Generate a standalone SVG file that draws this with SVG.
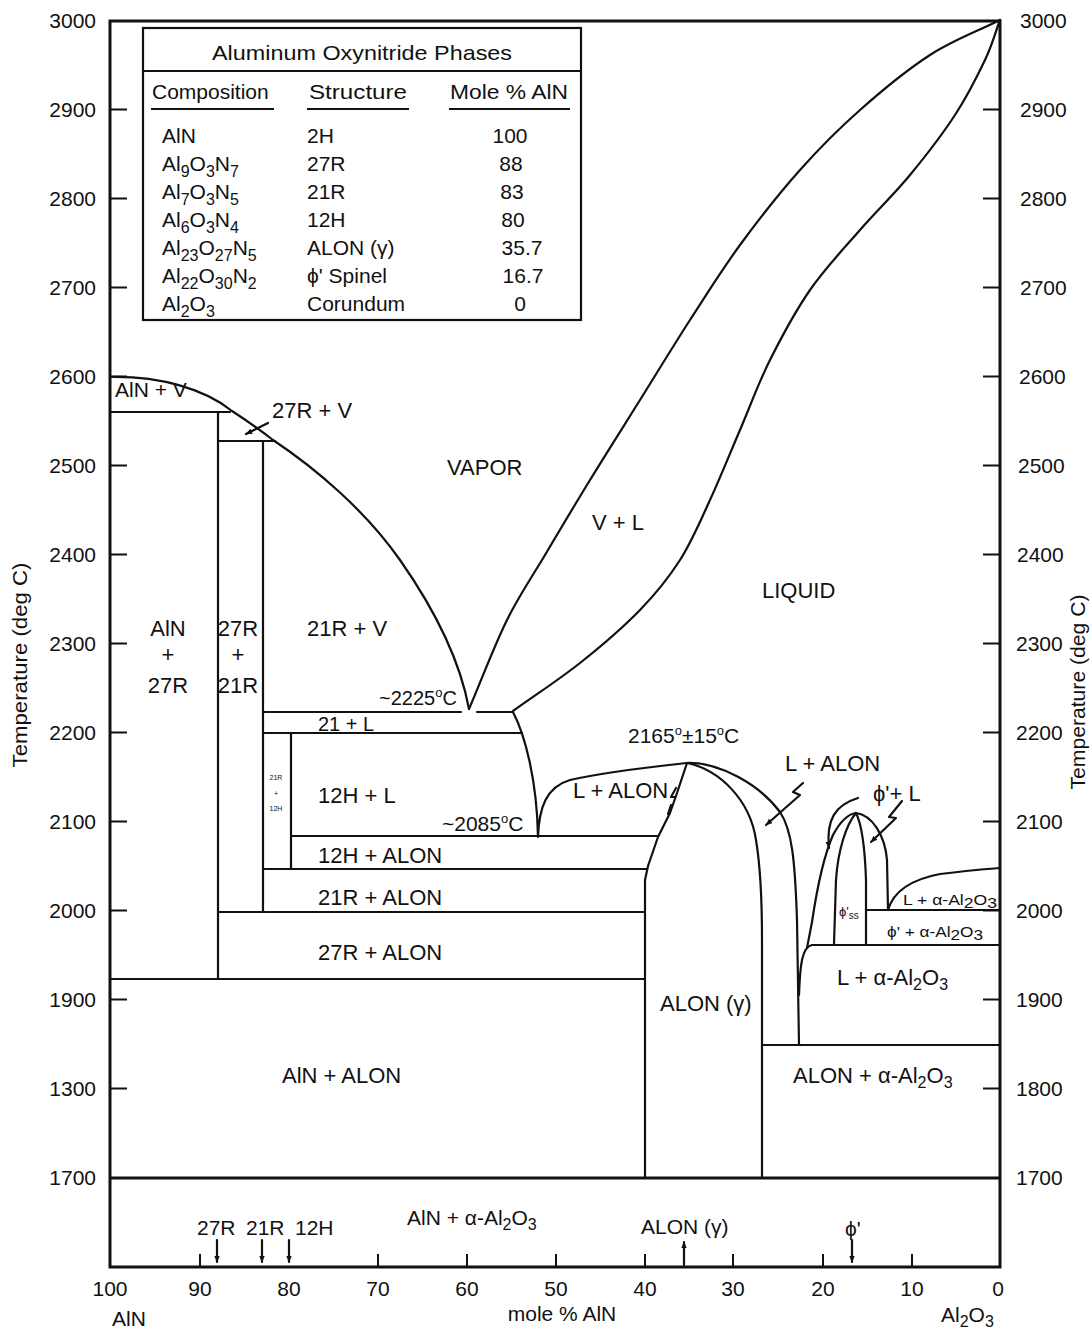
<svg xmlns="http://www.w3.org/2000/svg" width="1092" height="1336" viewBox="0 0 1092 1336">
<style>
text{font-family:"Liberation Sans",Arial,sans-serif;fill:#111}
.ax{font-size:21px}
.lb{font-size:22px}
.tb{font-size:21px}
.sm{font-size:15px}
.tn{font-size:7px}
.s{font-size:16px}
.ln{fill:none;stroke:#111;stroke-width:2.2;stroke-linejoin:round;stroke-linecap:round}
.th{fill:none;stroke:#111;stroke-width:3}
.tk{stroke:#111;stroke-width:2}
</style>
<defs>
<marker id="ah" viewBox="0 0 10 10" refX="9" refY="5" markerWidth="7" markerHeight="7" orient="auto" markerUnits="userSpaceOnUse"><path d="M0 1 L10 5 L0 9 z" fill="#111"/></marker>
</defs>
<rect width="1092" height="1336" fill="#fff"/>

<g id="frame">
<path class="th" d="M110 21 H1000 V1267 H110 Z"/>
<line class="th" x1="110" y1="1178" x2="1000" y2="1178"/>
<path class="tk" d="M110 109.6h17M110 198.5h17M110 287.5h17M110 376.4h17M110 465.5h17M110 554.6h17M110 643.5h17M110 732.4h17M110 821.5h17M110 910.6h17M110 999.5h17M110 1088.6h17"/>
<path class="tk" d="M983 109.6h17M983 198.5h17M983 287.5h17M983 376.4h17M983 465.5h17M983 554.6h17M983 643.5h17M983 732.4h17M983 821.5h17M983 910.6h17M983 999.5h17M983 1088.6h17"/>
<path class="tk" d="M200 1254v13M378 1254v13M467 1254v13M556 1254v13M645 1254v13M733 1254v13M823 1254v13M912 1254v13"/>
</g>

<g id="axis-labels">
<g class="ax" text-anchor="end">
<text x="96" y="28">3000</text><text x="96" y="117">2900</text><text x="96" y="206">2800</text><text x="96" y="295">2700</text><text x="96" y="384">2600</text><text x="96" y="473">2500</text><text x="96" y="562">2400</text><text x="96" y="651">2300</text><text x="96" y="740">2200</text><text x="96" y="829">2100</text><text x="96" y="918">2000</text><text x="96" y="1007">1900</text><text x="96" y="1096">1300</text><text x="96" y="1185">1700</text>
</g>
<g class="ax">
<text x="1020" y="28">3000</text><text x="1020" y="117">2900</text><text x="1020" y="206">2800</text><text x="1020" y="295">2700</text><text x="1019" y="384">2600</text><text x="1018" y="473">2500</text><text x="1017" y="562">2400</text><text x="1016" y="651">2300</text><text x="1016" y="740">2200</text><text x="1016" y="829">2100</text><text x="1016" y="918">2000</text><text x="1016" y="1007">1900</text><text x="1016" y="1096">1800</text><text x="1016" y="1185">1700</text>
</g>
<g class="ax" text-anchor="middle">
<text x="110" y="1296">100</text><text x="200" y="1296">90</text><text x="289" y="1296">80</text><text x="378" y="1296">70</text><text x="467" y="1296">60</text><text x="556" y="1296">50</text><text x="645" y="1296">40</text><text x="733" y="1296">30</text><text x="823" y="1296">20</text><text x="912" y="1296">10</text><text x="998" y="1296">0</text>
</g>
<text class="ax" x="112" y="1326">AlN</text>
<text class="ax" x="562" y="1321" text-anchor="middle">mole % AlN</text>
<text class="ax" x="941" y="1322">Al<tspan class="s" dy="5">2</tspan><tspan dy="-5">O</tspan><tspan class="s" dy="5">3</tspan></text>
<text class="ax" transform="translate(27 665) rotate(-90)" text-anchor="middle" textLength="205" lengthAdjust="spacingAndGlyphs">Temperature (deg C)</text>
<text class="ax" transform="translate(1085 692) rotate(-90)" text-anchor="middle" textLength="195" lengthAdjust="spacingAndGlyphs">Temperature (deg C)</text>
</g>

<g id="legend">
<rect x="143" y="28" width="438" height="292" fill="#fff" stroke="#111" stroke-width="2.2"/>
<line class="tk" x1="143" y1="71" x2="581" y2="71"/>
<text class="tb" x="362" y="60" text-anchor="middle" textLength="300" lengthAdjust="spacingAndGlyphs">Aluminum Oxynitride Phases</text>
<text class="tb" x="152" y="99">Composition</text>
<text class="tb" x="309" y="99" textLength="98" lengthAdjust="spacingAndGlyphs">Structure</text>
<text class="tb" x="450" y="99" textLength="118" lengthAdjust="spacingAndGlyphs">Mole % AlN</text>
<path class="tk" stroke-width="2.5" d="M151 109H274M307 109H409M449 109H570"/>
<g class="tb">
<text x="162" y="143">AlN</text>
<text x="162" y="171">Al<tspan class="s" dy="6">9</tspan><tspan dy="-6">O</tspan><tspan class="s" dy="6">3</tspan><tspan dy="-6">N</tspan><tspan class="s" dy="6">7</tspan></text>
<text x="162" y="199">Al<tspan class="s" dy="6">7</tspan><tspan dy="-6">O</tspan><tspan class="s" dy="6">3</tspan><tspan dy="-6">N</tspan><tspan class="s" dy="6">5</tspan></text>
<text x="162" y="227">Al<tspan class="s" dy="6">6</tspan><tspan dy="-6">O</tspan><tspan class="s" dy="6">3</tspan><tspan dy="-6">N</tspan><tspan class="s" dy="6">4</tspan></text>
<text x="162" y="255">Al<tspan class="s" dy="6">23</tspan><tspan dy="-6">O</tspan><tspan class="s" dy="6">27</tspan><tspan dy="-6">N</tspan><tspan class="s" dy="6">5</tspan></text>
<text x="162" y="283">Al<tspan class="s" dy="6">22</tspan><tspan dy="-6">O</tspan><tspan class="s" dy="6">30</tspan><tspan dy="-6">N</tspan><tspan class="s" dy="6">2</tspan></text>
<text x="162" y="311">Al<tspan class="s" dy="6">2</tspan><tspan dy="-6">O</tspan><tspan class="s" dy="6">3</tspan></text>
<text x="307" y="143">2H</text>
<text x="307" y="171">27R</text>
<text x="307" y="199">21R</text>
<text x="307" y="227">12H</text>
<text x="307" y="255">ALON (γ)</text>
<text x="307" y="283">ϕ' Spinel</text>
<text x="307" y="311">Corundum</text>
<g text-anchor="middle">
<text x="510" y="143">100</text>
<text x="511" y="171">88</text>
<text x="512" y="199">83</text>
<text x="513" y="227">80</text>
<text x="522" y="255">35.7</text>
<text x="523" y="283">16.7</text>
<text x="520" y="311">0</text>
</g>
</g>
</g>

<g id="boundaries">
<path class="ln" d="M110 377 C160 376 205 389 232 411 C246 420 260 430 273 440 C315 468 365 510 400 560 C435 610 460 660 469 709"/>
<path class="ln" d="M469 709 C481.7 679.3 494.3 645.7 507 620 C519.7 594.3 531.2 578.3 545 555 C558.8 531.7 574.2 505.8 590 480 C605.8 454.2 623.3 426.7 640 400 C656.7 373.3 673.3 345.8 690 320 C706.7 294.2 721.7 270 740 245 C758.3 220 780 192.5 800 170 C820 147.5 838.3 129.2 860 110 C881.7 90.8 906.7 70 930 55 C953.3 40 976.7 31.7 1000 20"/>
<path class="ln" d="M513 711 C535.3 695 558.8 679.8 580 663 C601.2 646.2 623.3 627.2 640 610 C656.7 592.8 668.3 578.3 680 560 C691.7 541.7 700 521.7 710 500 C720 478.3 730 453.3 740 430 C750 406.7 758.3 383.3 770 360 C781.7 336.7 795 311.7 810 290 C825 268.3 843.3 249.2 860 230 C876.7 210.8 894.2 194.2 910 175 C925.8 155.8 942.5 134.2 955 115 C967.5 95.8 977.5 75.8 985 60 C992.5 44.2 995 33.3 1000 20"/>
<path class="ln" d="M110 412 H230 M218 412 V979 M218 441 H275 M263 441 V912"/>
<path class="ln" d="M263 712 H461 M477 712 H513 M263 733 H522 M291 733 V869 M291 836 H657 M263 869 H647 M218 912 H645 M110 979 H645"/>
<path class="ln" d="M513 712 C525 735 537 780 538 837 C539 808 546 787 570 780 C610 771 650 767 687 763"/>
<path class="ln" d="M687 763 L677 793 L670 813 L658 837 L648 866 L645 880 V1178"/>
<path class="ln" d="M687 763 C720 770 750 800 756 840 C761 870 762 900 762 940 V1178"/>
<path class="ln" d="M687 763 C720 762 760 785 780 812 C792 830 795 860 797 920 L799 1045"/>
<path class="ln" d="M762 1045 H1000"/>
<path class="ln" d="M799 995 C800 965 802 947 812 945 H1000"/>
<path class="ln" d="M807 948 L812 922 C816 895 822 860 833 835 C840 822 848 814 856 813 C872 815 885 835 887 860 L888 910"/>
<path class="ln" d="M856 813 C846 825 838 850 836 880 L834 944 M856 813 C862 825 865 850 866 880 L866 944 M866 910 H1000"/>
<path class="ln" d="M888 910 C893 893 908 880 940 874 C965 871 985 869 1000 868"/>
</g>

<g id="leaders">
<path class="ln" stroke-width="2" marker-end="url(#ah)" d="M268 423 L246 434"/>
<path class="ln" stroke-width="2" marker-end="url(#ah)" d="M803 783 L793 792 L800 795 L766 825"/>
<path class="ln" stroke-width="2" marker-end="url(#ah)" d="M902 801 L889 817 L896 818 L871 842"/>
<path class="ln" stroke-width="2" marker-end="url(#ah)" d="M858 798 C835 805 826 820 829 848"/>
<path class="ln" stroke-width="2" d="M676 788 L671 797 L675 797 M671 805 L668 814"/>
<path class="ln" stroke-width="2" marker-end="url(#ah)" d="M217 1240 V1262"/>
<path class="ln" stroke-width="2" marker-end="url(#ah)" d="M262 1240 V1262"/>
<path class="ln" stroke-width="2" marker-end="url(#ah)" d="M289 1240 V1262"/>
<path class="ln" stroke-width="2" marker-end="url(#ah)" d="M684 1265 V1242"/>
<path class="ln" stroke-width="2" marker-end="url(#ah)" d="M852 1240 V1262"/>
</g>

<g id="region-labels" class="lb">
<text x="115" y="397" font-size="21">AlN + V</text>
<text x="272" y="418">27R + V</text>
<text x="447" y="475">VAPOR</text>
<text x="592" y="530">V + L</text>
<text x="762" y="598">LIQUID</text>
<g text-anchor="middle">
<text x="168" y="636">AlN</text><text x="168" y="662">+</text><text x="168" y="693">27R</text>
<text x="238" y="636">27R</text><text x="238" y="662">+</text><text x="238" y="693">21R</text>
</g>
<text x="307" y="636">21R + V</text>
<text x="379" y="705" font-size="20">~2225<tspan font-size="13" dy="-8">o</tspan><tspan dy="8">C</tspan></text>
<text x="318" y="731" font-size="20">21 + L</text>
<g class="tn" text-anchor="middle"><text x="276" y="780">21R</text><text x="276" y="796">+</text><text x="276" y="811">12H</text></g>
<text x="318" y="803">12H + L</text>
<text x="442" y="831" font-size="21">~2085<tspan font-size="13" dy="-8">o</tspan><tspan dy="8">C</tspan></text>
<text x="628" y="743" font-size="21">2165<tspan font-size="13" dy="-8">o</tspan><tspan dy="8">±15</tspan><tspan font-size="13" dy="-8">o</tspan><tspan dy="8">C</tspan></text>
<text x="573" y="798">L + ALON</text>
<text x="785" y="771">L + ALON</text>
<text x="873" y="801">ϕ'+ L</text>
<text x="318" y="863">12H + ALON</text>
<text x="318" y="905">21R + ALON</text>
<text x="318" y="960">27R + ALON</text>
<text x="660" y="1011">ALON (γ)</text>
<text x="839" y="916" font-size="13">ϕ'<tspan font-size="10" dy="3">ss</tspan></text>
<text x="903" y="905" class="sm" textLength="94" lengthAdjust="spacingAndGlyphs">L + α-Al<tspan dy="3">2</tspan><tspan dy="-3">O</tspan><tspan dy="3">3</tspan></text>
<text x="887" y="937" class="sm" textLength="96" lengthAdjust="spacingAndGlyphs">ϕ' + α-Al<tspan dy="3">2</tspan><tspan dy="-3">O</tspan><tspan dy="3">3</tspan></text>
<text x="837" y="985">L + α-Al<tspan class="s" dy="5">2</tspan><tspan dy="-5">O</tspan><tspan class="s" dy="5">3</tspan></text>
<text x="282" y="1083">AlN + ALON</text>
<text x="793" y="1083">ALON + α-Al<tspan class="s" dy="5">2</tspan><tspan dy="-5">O</tspan><tspan class="s" dy="5">3</tspan></text>
<text x="197" y="1235" font-size="21">27R</text>
<text x="246" y="1235" font-size="21">21R</text>
<text x="295" y="1235" font-size="21">12H</text>
<text x="407" y="1225" font-size="21">AlN + α-Al<tspan class="s" dy="5">2</tspan><tspan dy="-5">O</tspan><tspan class="s" dy="5">3</tspan></text>
<text x="641" y="1234" font-size="21">ALON (γ)</text>
<text x="845" y="1236" font-size="21">ϕ'</text>
</g>
</svg>
